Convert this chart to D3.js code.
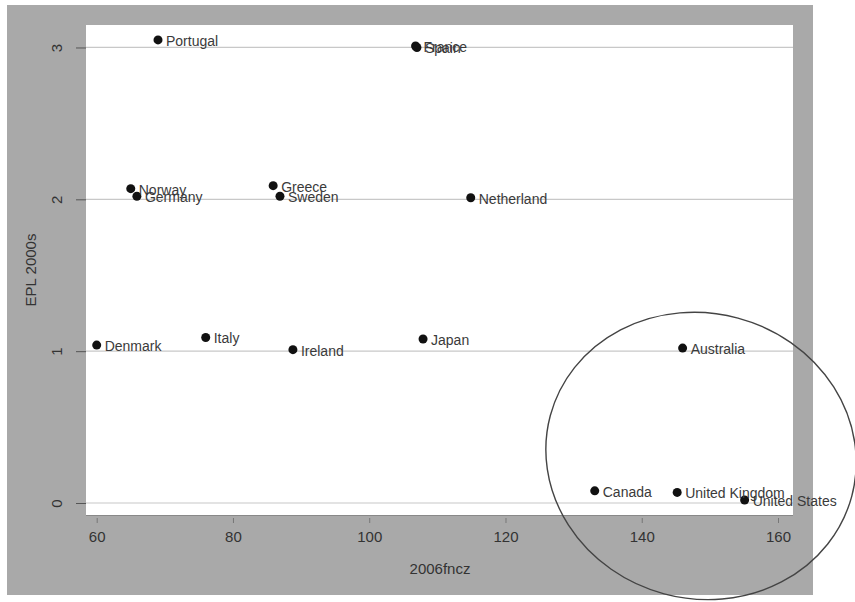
<!DOCTYPE html>
<html><head><meta charset="utf-8">
<script src="https://cdn.jsdelivr.net/npm/d3@7"></script>
<style>body{margin:0;background:#fff;} text{font-family:"Liberation Sans",Arial,sans-serif;}</style>
</head><body>
<svg id="chart" width="855" height="602"></svg>
<script>
const countries = ["Portugal","France","Spain","Norway","Germany","Greece","Sweden","Netherland","Denmark","Italy","Ireland","Japan","Australia","Canada","United Kingdom","United States"];
const fncz = [69.0,106.8,107.0,65.0,65.9,85.9,86.9,114.9,60.0,76.0,88.8,107.9,146.0,133.1,145.2,155.1];
const epl  = [3.05,3.01,3.00,2.07,2.02,2.09,2.02,2.01,1.04,1.09,1.01,1.08,1.02,0.08,0.07,0.02];
const xTicks = [60,80,100,120,140,160];
const yTicks = [0,1,2,3];
const circleNote = {cx:148.7, cy:0.31, rx:22.9, ry:0.94, angle:15};

const svg = d3.select("#chart");
const frame = {x0:7,y0:5,x1:813,y1:595};
const plot = {l:86,t:25,r:793,b:515};
svg.append("rect").attr("x",frame.x0).attr("y",frame.y0).attr("width",frame.x1-frame.x0).attr("height",frame.y1-frame.y0).attr("fill","#a9a9a9");
svg.append("rect").attr("x",plot.l).attr("y",plot.t).attr("width",plot.r-plot.l).attr("height",plot.b-plot.t).attr("fill","#fff");

const x = d3.scaleLinear().domain([58.43,162.2]).range([plot.l,plot.r]);
const y = d3.scaleLinear().domain([-0.079,3.148]).range([plot.b,plot.t]);

// grid
svg.append("g").selectAll("line").data(yTicks).join("line")
  .attr("x1",plot.l).attr("x2",plot.r).attr("y1",d=>y(d)).attr("y2",d=>y(d))
  .attr("stroke","#c8c8c8").attr("stroke-width",1.2);

// y axis
const yAxis = svg.append("g").attr("transform",`translate(${plot.l},0)`)
  .call(d3.axisLeft(y).tickValues(yTicks).tickSize(10).tickPadding(6).tickFormat(d3.format("d")));
yAxis.select(".domain").remove();
yAxis.selectAll("line").attr("stroke","#555");
yAxis.selectAll("text").attr("x",-29).attr("y",0).attr("dy","0.35em")
  .attr("transform","rotate(-90,-29,0)")
  .attr("text-anchor","middle").attr("fill","#333").style("font-size","15px");
yAxis.attr("font-family",null);

// x axis
const xAxis = svg.append("g").attr("transform",`translate(0,${plot.b})`)
  .call(d3.axisBottom(x).tickValues(xTicks).tickSize(6).tickPadding(10).tickFormat(d3.format("d")));
xAxis.attr("font-family",null);
xAxis.select(".domain").attr("stroke","#888").attr("d",`M${plot.l},0.5H${plot.r}`);
xAxis.selectAll("line").attr("stroke","#777").attr("y1",3).attr("y2",8);
xAxis.selectAll("text").attr("fill","#333").style("font-size","15px");

// titles
svg.append("text").attr("transform","translate(36,270) rotate(-90)").attr("text-anchor","middle")
  .attr("fill","#333").style("font-size","15px").text("EPL 2000s");
svg.append("text").attr("x",440).attr("y",574).attr("text-anchor","middle")
  .attr("fill","#333").style("font-size","15px").text("2006fncz");

// points
const data = countries.map((c,i)=>({c, x:fncz[i], y:epl[i]}));
const g = svg.append("g");
g.selectAll("circle").data(data).join("circle")
  .attr("cx",d=>x(d.x)).attr("cy",d=>y(d.y)).attr("r",4.5).attr("fill","#111");
g.selectAll("text").data(data).join("text")
  .attr("x",d=>x(d.x)+8).attr("y",d=>y(d.y)+1).attr("dy","0.35em")
  .attr("fill","#3a3a3a").style("font-size","14px").text(d=>d.c);

// annotation ellipse
const ecx = x(circleNote.cx), ecy = y(circleNote.cy);
svg.append("ellipse").attr("cx",ecx).attr("cy",ecy)
  .attr("rx",x(circleNote.cx+circleNote.rx)-ecx).attr("ry",ecy-y(circleNote.cy+circleNote.ry))
  .attr("transform",`rotate(${circleNote.angle},${ecx},${ecy})`)
  .attr("fill","none").attr("stroke","#444").attr("stroke-width",1.4);
</script>
</body></html>
